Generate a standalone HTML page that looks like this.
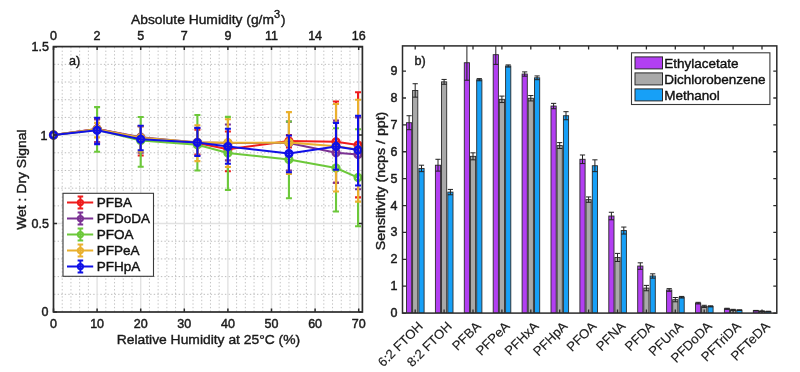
<!DOCTYPE html>
<html><head><meta charset="utf-8"><style>
html,body{margin:0;padding:0;background:#fff;}
body{width:800px;height:372px;position:relative;overflow:hidden;font-family:"Liberation Sans", sans-serif;}
</style></head><body>
<svg width="800" height="372" viewBox="0 0 800 372" style="position:absolute;left:0;top:0;will-change:transform">
<rect x="0" y="0" width="800" height="372" fill="#ffffff"/>
<g stroke="#c4c4c4" stroke-width="1.0" stroke-dasharray="1.4,2.16" stroke-dashoffset="-0.4"><line x1="62.22" y1="46.60" x2="62.22" y2="312.00"/><line x1="70.94" y1="46.60" x2="70.94" y2="312.00"/><line x1="79.66" y1="46.60" x2="79.66" y2="312.00"/><line x1="88.38" y1="46.60" x2="88.38" y2="312.00"/><line x1="105.82" y1="46.60" x2="105.82" y2="312.00"/><line x1="114.54" y1="46.60" x2="114.54" y2="312.00"/><line x1="123.26" y1="46.60" x2="123.26" y2="312.00"/><line x1="131.98" y1="46.60" x2="131.98" y2="312.00"/><line x1="149.42" y1="46.60" x2="149.42" y2="312.00"/><line x1="158.14" y1="46.60" x2="158.14" y2="312.00"/><line x1="166.86" y1="46.60" x2="166.86" y2="312.00"/><line x1="175.58" y1="46.60" x2="175.58" y2="312.00"/><line x1="193.02" y1="46.60" x2="193.02" y2="312.00"/><line x1="201.74" y1="46.60" x2="201.74" y2="312.00"/><line x1="210.46" y1="46.60" x2="210.46" y2="312.00"/><line x1="219.18" y1="46.60" x2="219.18" y2="312.00"/><line x1="236.62" y1="46.60" x2="236.62" y2="312.00"/><line x1="245.34" y1="46.60" x2="245.34" y2="312.00"/><line x1="254.06" y1="46.60" x2="254.06" y2="312.00"/><line x1="262.78" y1="46.60" x2="262.78" y2="312.00"/><line x1="280.22" y1="46.60" x2="280.22" y2="312.00"/><line x1="288.94" y1="46.60" x2="288.94" y2="312.00"/><line x1="297.66" y1="46.60" x2="297.66" y2="312.00"/><line x1="306.38" y1="46.60" x2="306.38" y2="312.00"/><line x1="323.82" y1="46.60" x2="323.82" y2="312.00"/><line x1="332.54" y1="46.60" x2="332.54" y2="312.00"/><line x1="341.26" y1="46.60" x2="341.26" y2="312.00"/><line x1="349.98" y1="46.60" x2="349.98" y2="312.00"/></g>
<g stroke="#bcbcbc" stroke-width="1.0" stroke-dasharray="1.4,2.16" stroke-dashoffset="-0.55"><line x1="53.50" y1="294.31" x2="362.40" y2="294.31"/><line x1="53.50" y1="276.62" x2="362.40" y2="276.62"/><line x1="53.50" y1="258.93" x2="362.40" y2="258.93"/><line x1="53.50" y1="241.24" x2="362.40" y2="241.24"/><line x1="53.50" y1="205.86" x2="362.40" y2="205.86"/><line x1="53.50" y1="188.17" x2="362.40" y2="188.17"/><line x1="53.50" y1="170.48" x2="362.40" y2="170.48"/><line x1="53.50" y1="152.79" x2="362.40" y2="152.79"/><line x1="53.50" y1="117.41" x2="362.40" y2="117.41"/><line x1="53.50" y1="99.72" x2="362.40" y2="99.72"/><line x1="53.50" y1="82.03" x2="362.40" y2="82.03"/><line x1="53.50" y1="64.34" x2="362.40" y2="64.34"/></g>
<g stroke="#e2e2e2" stroke-width="1.4"><line x1="97.10" y1="46.60" x2="97.10" y2="312.00"/><line x1="140.70" y1="46.60" x2="140.70" y2="312.00"/><line x1="184.30" y1="46.60" x2="184.30" y2="312.00"/><line x1="227.90" y1="46.60" x2="227.90" y2="312.00"/><line x1="271.50" y1="46.60" x2="271.50" y2="312.00"/><line x1="315.10" y1="46.60" x2="315.10" y2="312.00"/><line x1="358.70" y1="46.60" x2="358.70" y2="312.00"/><line x1="53.50" y1="223.55" x2="362.40" y2="223.55"/><line x1="53.50" y1="135.10" x2="362.40" y2="135.10"/></g>
<polyline points="53.50,135.10 97.10,128.91 140.70,137.75 197.38,143.06 227.90,149.25 288.94,141.11 336.03,141.82 358.05,145.01" fill="none" stroke="#ee1c1c" stroke-width="2" stroke-linejoin="round"/>
<path d="M97.10 119.18V142.18M94.10 119.18H100.10M94.10 142.18H100.10M140.70 126.25V155.44M137.70 126.25H143.70M137.70 155.44H143.70M197.38 129.79V154.56M194.38 129.79H200.38M194.38 154.56H200.38M227.90 131.56V171.19M224.90 131.56H230.90M224.90 171.19H230.90M288.94 135.10V147.48M285.94 135.10H291.94M285.94 147.48H291.94M336.03 101.49V182.69M333.03 101.49H339.03M333.03 182.69H339.03M358.05 92.29V197.37M355.05 92.29H361.05M355.05 197.37H361.05" fill="none" stroke="#ee1c1c" stroke-width="2.1"/>
<g fill="none" stroke="#ee1c1c" stroke-width="2.6"><circle cx="53.50" cy="135.10" r="3.3"/><circle cx="97.10" cy="128.91" r="3.3"/><circle cx="140.70" cy="137.75" r="3.3"/><circle cx="197.38" cy="143.06" r="3.3"/><circle cx="227.90" cy="149.25" r="3.3"/><circle cx="288.94" cy="141.11" r="3.3"/><circle cx="336.03" cy="141.82" r="3.3"/><circle cx="358.05" cy="145.01" r="3.3"/></g>
<polyline points="53.50,135.10 97.10,128.91 140.70,137.22 197.38,142.53 227.90,143.06 288.94,143.06 336.03,152.79 358.05,154.56" fill="none" stroke="#7b3294" stroke-width="2" stroke-linejoin="round"/>
<path d="M97.10 119.18V142.18M94.10 119.18H100.10M94.10 142.18H100.10M140.70 126.25V152.79M137.70 126.25H143.70M137.70 152.79H143.70M197.38 128.02V155.44M194.38 128.02H200.38M194.38 155.44H200.38M227.90 124.49V160.40M224.90 124.49H230.90M224.90 160.40H230.90M288.94 121.66V170.48M285.94 121.66H291.94M285.94 170.48H291.94M336.03 120.59V182.69M333.03 120.59H339.03M333.03 182.69H339.03M358.05 117.41V189.23M355.05 117.41H361.05M355.05 189.23H361.05" fill="none" stroke="#7b3294" stroke-width="2.1"/>
<g fill="none" stroke="#7b3294" stroke-width="2.6"><circle cx="53.50" cy="135.10" r="3.3"/><circle cx="97.10" cy="128.91" r="3.3"/><circle cx="140.70" cy="137.22" r="3.3"/><circle cx="197.38" cy="142.53" r="3.3"/><circle cx="227.90" cy="143.06" r="3.3"/><circle cx="288.94" cy="143.06" r="3.3"/><circle cx="336.03" cy="152.79" r="3.3"/><circle cx="358.05" cy="154.56" r="3.3"/></g>
<polyline points="53.50,135.10 97.10,129.79 140.70,140.41 197.38,144.83 227.90,152.97 288.94,159.51 336.03,168.00 358.05,177.56" fill="none" stroke="#6cc83a" stroke-width="2" stroke-linejoin="round"/>
<path d="M97.10 107.15V151.73M94.10 107.15H100.10M94.10 151.73H100.10M140.70 117.06V166.77M137.70 117.06H143.70M137.70 166.77H143.70M197.38 114.93V170.48M194.38 114.93H200.38M194.38 170.48H200.38M227.90 116.88V189.94M224.90 116.88H230.90M224.90 189.94H230.90M288.94 121.48V198.25M285.94 121.48H291.94M285.94 198.25H291.94M336.03 128.20V211.52M333.03 128.20H339.03M333.03 211.52H339.03M358.05 129.26V226.20M355.05 129.26H361.05M355.05 226.20H361.05" fill="none" stroke="#6cc83a" stroke-width="2.1"/>
<g fill="none" stroke="#6cc83a" stroke-width="2.6"><circle cx="53.50" cy="135.10" r="3.3"/><circle cx="97.10" cy="129.79" r="3.3"/><circle cx="140.70" cy="140.41" r="3.3"/><circle cx="197.38" cy="144.83" r="3.3"/><circle cx="227.90" cy="152.97" r="3.3"/><circle cx="288.94" cy="159.51" r="3.3"/><circle cx="336.03" cy="168.00" r="3.3"/><circle cx="358.05" cy="177.56" r="3.3"/></g>
<polyline points="53.50,135.10 97.10,129.26 140.70,137.75 197.38,142.18 227.90,142.71 288.94,142.53 336.03,146.24 358.05,149.61" fill="none" stroke="#e9b02e" stroke-width="2" stroke-linejoin="round"/>
<path d="M97.10 122.89V137.40M94.10 122.89H100.10M94.10 137.40H100.10M140.70 126.25V151.55M137.70 126.25H143.70M137.70 151.55H143.70M197.38 125.19V161.10M194.38 125.19H200.38M194.38 161.10H200.38M227.90 119.18V166.94M224.90 119.18H230.90M224.90 166.94H230.90M288.94 112.10V174.02M285.94 112.10H291.94M285.94 174.02H291.94M336.03 103.97V191.53M333.03 103.97H339.03M333.03 191.53H339.03M358.05 99.72V201.61M355.05 99.72H361.05M355.05 201.61H361.05" fill="none" stroke="#e9b02e" stroke-width="2.1"/>
<g fill="none" stroke="#e9b02e" stroke-width="2.6"><circle cx="53.50" cy="135.10" r="3.3"/><circle cx="97.10" cy="129.26" r="3.3"/><circle cx="140.70" cy="137.75" r="3.3"/><circle cx="197.38" cy="142.18" r="3.3"/><circle cx="227.90" cy="142.71" r="3.3"/><circle cx="288.94" cy="142.53" r="3.3"/><circle cx="336.03" cy="146.24" r="3.3"/><circle cx="358.05" cy="149.61" r="3.3"/></g>
<polyline points="53.50,135.10 97.10,130.32 140.70,139.35 197.38,142.53 227.90,146.60 288.94,153.50 336.03,146.42 358.05,149.96" fill="none" stroke="#1010e6" stroke-width="2" stroke-linejoin="round"/>
<path d="M97.10 117.76V144.12M94.10 117.76H100.10M94.10 144.12H100.10M140.70 125.72V150.31M137.70 125.72H143.70M137.70 150.31H143.70M197.38 127.85V155.97M194.38 127.85H200.38M194.38 155.97H200.38M227.90 128.73V163.76M224.90 128.73H230.90M224.90 163.76H230.90M288.94 135.45V172.25M285.94 135.45H291.94M285.94 172.25H291.94M336.03 122.89V169.77M333.03 122.89H339.03M333.03 169.77H339.03M358.05 115.82V185.52M355.05 115.82H361.05M355.05 185.52H361.05" fill="none" stroke="#1010e6" stroke-width="2.1"/>
<g fill="none" stroke="#1010e6" stroke-width="2.6"><circle cx="53.50" cy="135.10" r="3.3"/><circle cx="97.10" cy="130.32" r="3.3"/><circle cx="140.70" cy="139.35" r="3.3"/><circle cx="197.38" cy="142.53" r="3.3"/><circle cx="227.90" cy="146.60" r="3.3"/><circle cx="288.94" cy="153.50" r="3.3"/><circle cx="336.03" cy="146.42" r="3.3"/><circle cx="358.05" cy="149.96" r="3.3"/></g>
<rect x="53.50" y="46.60" width="308.90" height="265.40" fill="none" stroke="#2b2b2b" stroke-width="1.7"/>
<path d="M53.50 312.00V308.50M53.50 46.60V50.10M97.10 312.00V308.50M97.10 46.60V50.10M140.70 312.00V308.50M140.70 46.60V50.10M184.30 312.00V308.50M184.30 46.60V50.10M227.90 312.00V308.50M227.90 46.60V50.10M271.50 312.00V308.50M271.50 46.60V50.10M315.10 312.00V308.50M315.10 46.60V50.10M358.70 312.00V308.50M358.70 46.60V50.10M53.50 312.00H57.00M362.40 312.00H358.90M53.50 223.55H57.00M362.40 223.55H358.90M53.50 135.10H57.00M362.40 135.10H358.90M53.50 46.65H57.00M362.40 46.65H358.90" stroke="#2b2b2b" stroke-width="1.5" fill="none"/>
<g font-family='"Liberation Sans", sans-serif' font-size="12.5" fill="#1a1a1a" stroke="#1a1a1a" stroke-width="0.45" text-anchor="middle">
<text x="53.50" y="328.3">0</text>
<text x="97.10" y="328.3">10</text>
<text x="140.70" y="328.3">20</text>
<text x="184.30" y="328.3">30</text>
<text x="227.90" y="328.3">40</text>
<text x="271.50" y="328.3">50</text>
<text x="315.10" y="328.3">60</text>
<text x="358.70" y="328.3">70</text>
<text x="53.50" y="39.8">0</text>
<text x="97.10" y="39.8">2</text>
<text x="140.70" y="39.8">5</text>
<text x="184.30" y="39.8">7</text>
<text x="227.90" y="39.8">9</text>
<text x="271.50" y="39.8">11</text>
<text x="315.10" y="39.8">14</text>
<text x="358.70" y="39.8">16</text>
</g>
<g font-family='"Liberation Sans", sans-serif' font-size="12.5" fill="#1a1a1a" stroke="#1a1a1a" stroke-width="0.45" text-anchor="end">
<text x="48.4" y="316.40">0</text>
<text x="49.0" y="227.95">0.5</text>
<text x="47.4" y="139.50">1</text>
<text x="49.0" y="51.05">1.5</text>
</g>
<text x="116.70" y="344.20" font-family='"Liberation Sans", sans-serif' font-size="13.5" fill="#1a1a1a" stroke="#1a1a1a" stroke-width="0.4" text-anchor="start" textLength="183.5" lengthAdjust="spacingAndGlyphs">Relative Humidity at 25°C (%)</text>
<text x="131.0" y="23.6" font-family='"Liberation Sans", sans-serif' font-size="13.5" fill="#1a1a1a" stroke="#1a1a1a" stroke-width="0.4"><tspan textLength="143" lengthAdjust="spacingAndGlyphs">Absolute Humidity (g/m</tspan><tspan font-size="11" dy="-6">3</tspan><tspan dy="6" dx="0.8">)</tspan></text>
<text transform="translate(25.80,229.80) rotate(-90)" font-family='"Liberation Sans", sans-serif' font-size="13.5" fill="#1a1a1a" stroke="#1a1a1a" stroke-width="0.4" text-anchor="start" textLength="100.4" lengthAdjust="spacingAndGlyphs">Wet : Dry Signal</text>
<text x="68.90" y="64.60" font-family='"Liberation Sans", sans-serif' font-size="12.6" fill="#1a1a1a" stroke="#1a1a1a" stroke-width="0.4" text-anchor="start">a)</text>
<rect x="63" y="193.3" width="90.5" height="83" fill="#ffffff" stroke="#3a3a3a" stroke-width="1.1"/>
<path d="M67 202.60H93.2M80.4 196.60V208.60M77.6 196.60H83.2M77.6 208.60H83.2" stroke="#ee1c1c" stroke-width="2" fill="none"/>
<circle cx="80.4" cy="202.60" r="2.6" fill="none" stroke="#ee1c1c" stroke-width="2"/>
<text x="96.80" y="207.20" font-family='"Liberation Sans", sans-serif' font-size="13.5" fill="#111111" stroke="#111111" stroke-width="0.4" text-anchor="start">PFBA</text>
<path d="M67 218.60H93.2M80.4 212.60V224.60M77.6 212.60H83.2M77.6 224.60H83.2" stroke="#7b3294" stroke-width="2" fill="none"/>
<circle cx="80.4" cy="218.60" r="2.6" fill="none" stroke="#7b3294" stroke-width="2"/>
<text x="96.80" y="223.20" font-family='"Liberation Sans", sans-serif' font-size="13.5" fill="#111111" stroke="#111111" stroke-width="0.4" text-anchor="start">PFDoDA</text>
<path d="M67 234.60H93.2M80.4 228.60V240.60M77.6 228.60H83.2M77.6 240.60H83.2" stroke="#6cc83a" stroke-width="2" fill="none"/>
<circle cx="80.4" cy="234.60" r="2.6" fill="none" stroke="#6cc83a" stroke-width="2"/>
<text x="96.80" y="239.20" font-family='"Liberation Sans", sans-serif' font-size="13.5" fill="#111111" stroke="#111111" stroke-width="0.4" text-anchor="start">PFOA</text>
<path d="M67 250.60H93.2M80.4 244.60V256.60M77.6 244.60H83.2M77.6 256.60H83.2" stroke="#e9b02e" stroke-width="2" fill="none"/>
<circle cx="80.4" cy="250.60" r="2.6" fill="none" stroke="#e9b02e" stroke-width="2"/>
<text x="96.80" y="255.20" font-family='"Liberation Sans", sans-serif' font-size="13.5" fill="#111111" stroke="#111111" stroke-width="0.4" text-anchor="start">PFPeA</text>
<path d="M67 266.60H93.2M80.4 260.60V272.60M77.6 260.60H83.2M77.6 272.60H83.2" stroke="#1010e6" stroke-width="2" fill="none"/>
<circle cx="80.4" cy="266.60" r="2.6" fill="none" stroke="#1010e6" stroke-width="2"/>
<text x="96.80" y="271.20" font-family='"Liberation Sans", sans-serif' font-size="13.5" fill="#111111" stroke="#111111" stroke-width="0.4" text-anchor="start">PFHpA</text>
<defs><clipPath id="rc"><rect x="402.5" y="45.9" width="374.29999999999995" height="267.20000000000005"/></clipPath></defs>
<g clip-path="url(#rc)">
<rect x="406.50" y="122.72" width="5.2" height="190.38" fill="#b23ff2" stroke="#2a2a2a" stroke-width="0.9"/>
<rect x="412.60" y="90.45" width="5.2" height="222.65" fill="#a9a9a9" stroke="#2a2a2a" stroke-width="0.9"/>
<rect x="418.90" y="168.43" width="5.2" height="144.67" fill="#17a0f7" stroke="#2a2a2a" stroke-width="0.9"/>
<path d="M409.10 115.73V129.71M406.50 115.73H411.70M406.50 129.71H411.70" stroke="#222" stroke-width="1" fill="none"/>
<path d="M415.20 83.73V97.17M412.60 83.73H417.80M412.60 97.17H417.80" stroke="#222" stroke-width="1" fill="none"/>
<path d="M421.50 165.21V171.66M418.90 165.21H424.10M418.90 171.66H424.10" stroke="#222" stroke-width="1" fill="none"/>
<rect x="435.40" y="165.21" width="5.2" height="147.90" fill="#b23ff2" stroke="#2a2a2a" stroke-width="0.9"/>
<rect x="441.50" y="81.85" width="5.2" height="231.25" fill="#a9a9a9" stroke="#2a2a2a" stroke-width="0.9"/>
<rect x="447.80" y="192.10" width="5.2" height="121.00" fill="#17a0f7" stroke="#2a2a2a" stroke-width="0.9"/>
<path d="M438.00 159.29V171.12M435.40 159.29H440.60M435.40 171.12H440.60" stroke="#222" stroke-width="1" fill="none"/>
<path d="M444.10 79.43V84.27M441.50 79.43H446.70M441.50 84.27H446.70" stroke="#222" stroke-width="1" fill="none"/>
<path d="M450.40 189.41V194.78M447.80 189.41H453.00M447.80 194.78H453.00" stroke="#222" stroke-width="1" fill="none"/>
<rect x="464.30" y="62.75" width="5.2" height="250.35" fill="#b23ff2" stroke="#2a2a2a" stroke-width="0.9"/>
<rect x="470.40" y="156.33" width="5.2" height="156.77" fill="#a9a9a9" stroke="#2a2a2a" stroke-width="0.9"/>
<rect x="476.70" y="79.69" width="5.2" height="233.41" fill="#17a0f7" stroke="#2a2a2a" stroke-width="0.9"/>
<path d="M466.90 45.28V80.23M464.30 45.28H469.50M464.30 80.23H469.50" stroke="#222" stroke-width="1" fill="none"/>
<path d="M473.00 152.84V159.83M470.40 152.84H475.60M470.40 159.83H475.60" stroke="#222" stroke-width="1" fill="none"/>
<path d="M479.30 78.62V80.77M476.70 78.62H481.90M476.70 80.77H481.90" stroke="#222" stroke-width="1" fill="none"/>
<rect x="493.20" y="54.69" width="5.2" height="258.41" fill="#b23ff2" stroke="#2a2a2a" stroke-width="0.9"/>
<rect x="499.30" y="99.32" width="5.2" height="213.78" fill="#a9a9a9" stroke="#2a2a2a" stroke-width="0.9"/>
<rect x="505.60" y="65.98" width="5.2" height="247.12" fill="#17a0f7" stroke="#2a2a2a" stroke-width="0.9"/>
<path d="M495.80 45.01V64.37M493.20 45.01H498.40M493.20 64.37H498.40" stroke="#222" stroke-width="1" fill="none"/>
<path d="M501.90 96.10V102.55M499.30 96.10H504.50M499.30 102.55H504.50" stroke="#222" stroke-width="1" fill="none"/>
<path d="M508.20 64.91V67.06M505.60 64.91H510.80M505.60 67.06H510.80" stroke="#222" stroke-width="1" fill="none"/>
<rect x="522.10" y="74.05" width="5.2" height="239.05" fill="#b23ff2" stroke="#2a2a2a" stroke-width="0.9"/>
<rect x="528.20" y="98.25" width="5.2" height="214.85" fill="#a9a9a9" stroke="#2a2a2a" stroke-width="0.9"/>
<rect x="534.50" y="77.81" width="5.2" height="235.29" fill="#17a0f7" stroke="#2a2a2a" stroke-width="0.9"/>
<path d="M524.70 71.90V76.20M522.10 71.90H527.30M522.10 76.20H527.30" stroke="#222" stroke-width="1" fill="none"/>
<path d="M530.80 95.56V100.94M528.20 95.56H533.40M528.20 100.94H533.40" stroke="#222" stroke-width="1" fill="none"/>
<path d="M537.10 75.93V79.69M534.50 75.93H539.70M534.50 79.69H539.70" stroke="#222" stroke-width="1" fill="none"/>
<rect x="551.00" y="106.05" width="5.2" height="207.05" fill="#b23ff2" stroke="#2a2a2a" stroke-width="0.9"/>
<rect x="557.10" y="145.58" width="5.2" height="167.52" fill="#a9a9a9" stroke="#2a2a2a" stroke-width="0.9"/>
<rect x="563.40" y="115.73" width="5.2" height="197.37" fill="#17a0f7" stroke="#2a2a2a" stroke-width="0.9"/>
<path d="M553.60 103.36V108.74M551.00 103.36H556.20M551.00 108.74H556.20" stroke="#222" stroke-width="1" fill="none"/>
<path d="M559.70 142.62V148.53M557.10 142.62H562.30M557.10 148.53H562.30" stroke="#222" stroke-width="1" fill="none"/>
<path d="M566.00 111.69V119.76M563.40 111.69H568.60M563.40 119.76H568.60" stroke="#222" stroke-width="1" fill="none"/>
<rect x="579.90" y="159.29" width="5.2" height="153.81" fill="#b23ff2" stroke="#2a2a2a" stroke-width="0.9"/>
<rect x="586.00" y="199.62" width="5.2" height="113.48" fill="#a9a9a9" stroke="#2a2a2a" stroke-width="0.9"/>
<rect x="592.30" y="165.74" width="5.2" height="147.36" fill="#17a0f7" stroke="#2a2a2a" stroke-width="0.9"/>
<path d="M582.50 154.99V163.59M579.90 154.99H585.10M579.90 163.59H585.10" stroke="#222" stroke-width="1" fill="none"/>
<path d="M588.60 196.94V202.31M586.00 196.94H591.20M586.00 202.31H591.20" stroke="#222" stroke-width="1" fill="none"/>
<path d="M594.90 159.83V171.66M592.30 159.83H597.50M592.30 171.66H597.50" stroke="#222" stroke-width="1" fill="none"/>
<rect x="608.80" y="216.03" width="5.2" height="97.07" fill="#b23ff2" stroke="#2a2a2a" stroke-width="0.9"/>
<rect x="614.90" y="257.44" width="5.2" height="55.66" fill="#a9a9a9" stroke="#2a2a2a" stroke-width="0.9"/>
<rect x="621.20" y="230.55" width="5.2" height="82.55" fill="#17a0f7" stroke="#2a2a2a" stroke-width="0.9"/>
<path d="M611.40 212.26V219.79M608.80 212.26H614.00M608.80 219.79H614.00" stroke="#222" stroke-width="1" fill="none"/>
<path d="M617.50 253.40V261.47M614.90 253.40H620.10M614.90 261.47H620.10" stroke="#222" stroke-width="1" fill="none"/>
<path d="M623.80 227.05V234.04M621.20 227.05H626.40M621.20 234.04H626.40" stroke="#222" stroke-width="1" fill="none"/>
<rect x="637.70" y="266.04" width="5.2" height="47.06" fill="#b23ff2" stroke="#2a2a2a" stroke-width="0.9"/>
<rect x="643.80" y="288.09" width="5.2" height="25.01" fill="#a9a9a9" stroke="#2a2a2a" stroke-width="0.9"/>
<rect x="650.10" y="275.99" width="5.2" height="37.11" fill="#17a0f7" stroke="#2a2a2a" stroke-width="0.9"/>
<path d="M640.30 262.82V269.27M637.70 262.82H642.90M637.70 269.27H642.90" stroke="#222" stroke-width="1" fill="none"/>
<path d="M646.40 285.40V290.78M643.80 285.40H649.00M643.80 290.78H649.00" stroke="#222" stroke-width="1" fill="none"/>
<path d="M652.70 273.84V278.14M650.10 273.84H655.30M650.10 278.14H655.30" stroke="#222" stroke-width="1" fill="none"/>
<rect x="666.60" y="289.97" width="5.2" height="23.13" fill="#b23ff2" stroke="#2a2a2a" stroke-width="0.9"/>
<rect x="672.70" y="299.66" width="5.2" height="13.44" fill="#a9a9a9" stroke="#2a2a2a" stroke-width="0.9"/>
<rect x="679.00" y="297.23" width="5.2" height="15.87" fill="#17a0f7" stroke="#2a2a2a" stroke-width="0.9"/>
<path d="M669.20 288.63V291.32M666.60 288.63H671.80M666.60 291.32H671.80" stroke="#222" stroke-width="1" fill="none"/>
<path d="M675.30 297.50V301.81M672.70 297.50H677.90M672.70 301.81H677.90" stroke="#222" stroke-width="1" fill="none"/>
<path d="M681.60 296.43V298.04M679.00 296.43H684.20M679.00 298.04H684.20" stroke="#222" stroke-width="1" fill="none"/>
<rect x="695.50" y="303.15" width="5.2" height="9.95" fill="#b23ff2" stroke="#2a2a2a" stroke-width="0.9"/>
<rect x="701.60" y="306.38" width="5.2" height="6.72" fill="#a9a9a9" stroke="#2a2a2a" stroke-width="0.9"/>
<rect x="707.90" y="306.38" width="5.2" height="6.72" fill="#17a0f7" stroke="#2a2a2a" stroke-width="0.9"/>
<path d="M698.10 302.34V303.96M695.50 302.34H700.70M695.50 303.96H700.70" stroke="#222" stroke-width="1" fill="none"/>
<path d="M704.20 305.30V307.45M701.60 305.30H706.80M701.60 307.45H706.80" stroke="#222" stroke-width="1" fill="none"/>
<path d="M710.50 305.84V306.92M707.90 305.84H713.10M707.90 306.92H713.10" stroke="#222" stroke-width="1" fill="none"/>
<rect x="724.40" y="308.80" width="5.2" height="4.30" fill="#b23ff2" stroke="#2a2a2a" stroke-width="0.9"/>
<rect x="730.50" y="309.87" width="5.2" height="3.23" fill="#a9a9a9" stroke="#2a2a2a" stroke-width="0.9"/>
<rect x="736.80" y="310.14" width="5.2" height="2.96" fill="#17a0f7" stroke="#2a2a2a" stroke-width="0.9"/>
<path d="M727.00 308.26V309.34M724.40 308.26H729.60M724.40 309.34H729.60" stroke="#222" stroke-width="1" fill="none"/>
<path d="M733.10 309.34V310.41M730.50 309.34H735.70M730.50 310.41H735.70" stroke="#222" stroke-width="1" fill="none"/>
<path d="M739.40 309.87V310.41M736.80 309.87H742.00M736.80 310.41H742.00" stroke="#222" stroke-width="1" fill="none"/>
<rect x="753.30" y="310.68" width="5.2" height="2.42" fill="#b23ff2" stroke="#2a2a2a" stroke-width="0.9"/>
<rect x="759.40" y="311.22" width="5.2" height="1.88" fill="#a9a9a9" stroke="#2a2a2a" stroke-width="0.9"/>
<rect x="765.70" y="311.49" width="5.2" height="1.61" fill="#17a0f7" stroke="#2a2a2a" stroke-width="0.9"/>
<path d="M755.90 310.41V310.95M753.30 310.41H758.50M753.30 310.95H758.50" stroke="#222" stroke-width="1" fill="none"/>
<path d="M762.00 310.95V311.49M759.40 310.95H764.60M759.40 311.49H764.60" stroke="#222" stroke-width="1" fill="none"/>
<path d="M768.30 311.22V311.76M765.70 311.22H770.90M765.70 311.76H770.90" stroke="#222" stroke-width="1" fill="none"/>
</g>
<rect x="402.5" y="45.9" width="374.30" height="267.20" fill="none" stroke="#2b2b2b" stroke-width="1.5"/>
<path d="M402.5 313.10H406.0M776.8 313.10H773.3M402.5 286.21H406.0M776.8 286.21H773.3M402.5 259.32H406.0M776.8 259.32H773.3M402.5 232.43H406.0M776.8 232.43H773.3M402.5 205.54H406.0M776.8 205.54H773.3M402.5 178.65H406.0M776.8 178.65H773.3M402.5 151.76H406.0M776.8 151.76H773.3M402.5 124.87H406.0M776.8 124.87H773.3M402.5 97.98H406.0M776.8 97.98H773.3M402.5 71.09H406.0M776.8 71.09H773.3M415.20 45.9V49.4M415.20 313.1V309.6M444.10 45.9V49.4M444.10 313.1V309.6M473.00 45.9V49.4M473.00 313.1V309.6M501.90 45.9V49.4M501.90 313.1V309.6M530.80 45.9V49.4M530.80 313.1V309.6M559.70 45.9V49.4M559.70 313.1V309.6M588.60 45.9V49.4M588.60 313.1V309.6M617.50 45.9V49.4M617.50 313.1V309.6M646.40 45.9V49.4M646.40 313.1V309.6M675.30 45.9V49.4M675.30 313.1V309.6M704.20 45.9V49.4M704.20 313.1V309.6M733.10 45.9V49.4M733.10 313.1V309.6M762.00 45.9V49.4M762.00 313.1V309.6" stroke="#2b2b2b" stroke-width="1.3" fill="none"/>
<g font-family='"Liberation Sans", sans-serif' font-size="12.5" fill="#1a1a1a" stroke="#1a1a1a" stroke-width="0.45" text-anchor="end">
<text x="397.5" y="317.10">0</text>
<text x="397.5" y="290.21">1</text>
<text x="397.5" y="263.32">2</text>
<text x="397.5" y="236.43">3</text>
<text x="397.5" y="209.54">4</text>
<text x="397.5" y="182.65">5</text>
<text x="397.5" y="155.76">6</text>
<text x="397.5" y="128.87">7</text>
<text x="397.5" y="101.98">8</text>
<text x="397.5" y="75.09">9</text>
</g>
<text transform="translate(423.80,327.00) rotate(-45)" font-family='"Liberation Sans", sans-serif' font-size="13.1" fill="#1a1a1a" stroke="#1a1a1a" stroke-width="0.15" text-anchor="end">6:2 FTOH</text>
<text transform="translate(452.70,327.00) rotate(-45)" font-family='"Liberation Sans", sans-serif' font-size="13.1" fill="#1a1a1a" stroke="#1a1a1a" stroke-width="0.15" text-anchor="end">8:2 FTOH</text>
<text transform="translate(481.60,327.00) rotate(-45)" font-family='"Liberation Sans", sans-serif' font-size="13.1" fill="#1a1a1a" stroke="#1a1a1a" stroke-width="0.15" text-anchor="end">PFBA</text>
<text transform="translate(510.50,327.00) rotate(-45)" font-family='"Liberation Sans", sans-serif' font-size="13.1" fill="#1a1a1a" stroke="#1a1a1a" stroke-width="0.15" text-anchor="end">PFPeA</text>
<text transform="translate(539.40,327.00) rotate(-45)" font-family='"Liberation Sans", sans-serif' font-size="13.1" fill="#1a1a1a" stroke="#1a1a1a" stroke-width="0.15" text-anchor="end">PFHxA</text>
<text transform="translate(568.30,327.00) rotate(-45)" font-family='"Liberation Sans", sans-serif' font-size="13.1" fill="#1a1a1a" stroke="#1a1a1a" stroke-width="0.15" text-anchor="end">PFHpA</text>
<text transform="translate(597.20,327.00) rotate(-45)" font-family='"Liberation Sans", sans-serif' font-size="13.1" fill="#1a1a1a" stroke="#1a1a1a" stroke-width="0.15" text-anchor="end">PFOA</text>
<text transform="translate(626.10,327.00) rotate(-45)" font-family='"Liberation Sans", sans-serif' font-size="13.1" fill="#1a1a1a" stroke="#1a1a1a" stroke-width="0.15" text-anchor="end">PFNA</text>
<text transform="translate(655.00,327.00) rotate(-45)" font-family='"Liberation Sans", sans-serif' font-size="13.1" fill="#1a1a1a" stroke="#1a1a1a" stroke-width="0.15" text-anchor="end">PFDA</text>
<text transform="translate(683.90,327.00) rotate(-45)" font-family='"Liberation Sans", sans-serif' font-size="13.1" fill="#1a1a1a" stroke="#1a1a1a" stroke-width="0.15" text-anchor="end">PFUnA</text>
<text transform="translate(712.80,327.00) rotate(-45)" font-family='"Liberation Sans", sans-serif' font-size="13.1" fill="#1a1a1a" stroke="#1a1a1a" stroke-width="0.15" text-anchor="end">PFDoDA</text>
<text transform="translate(741.70,327.00) rotate(-45)" font-family='"Liberation Sans", sans-serif' font-size="13.1" fill="#1a1a1a" stroke="#1a1a1a" stroke-width="0.15" text-anchor="end">PFTriDA</text>
<text transform="translate(770.60,327.00) rotate(-45)" font-family='"Liberation Sans", sans-serif' font-size="13.1" fill="#1a1a1a" stroke="#1a1a1a" stroke-width="0.15" text-anchor="end">PFTeDA</text>
<text transform="translate(385.40,250.30) rotate(-90)" font-family='"Liberation Sans", sans-serif' font-size="13.5" fill="#1a1a1a" stroke="#1a1a1a" stroke-width="0.4" text-anchor="start" textLength="138.6" lengthAdjust="spacingAndGlyphs">Sensitivity (ncps / ppt)</text>
<text x="414.50" y="64.60" font-family='"Liberation Sans", sans-serif' font-size="12.6" fill="#1a1a1a" stroke="#1a1a1a" stroke-width="0.4" text-anchor="start">b)</text>
<rect x="631.5" y="52.8" width="138.4" height="51.7" fill="#ffffff" stroke="#3a3a3a" stroke-width="1.1"/>
<rect x="635" y="56.90" width="27.5" height="12" fill="#b23ff2" stroke="#2a2a2a" stroke-width="1"/>
<text x="664.20" y="67.90" font-family='"Liberation Sans", sans-serif' font-size="13.5" fill="#111111" stroke="#111111" stroke-width="0.4" text-anchor="start">Ethylacetate</text>
<rect x="635" y="72.90" width="27.5" height="12" fill="#a9a9a9" stroke="#2a2a2a" stroke-width="1"/>
<text x="664.20" y="83.90" font-family='"Liberation Sans", sans-serif' font-size="13.5" fill="#111111" stroke="#111111" stroke-width="0.4" text-anchor="start">Dichlorobenzene</text>
<rect x="635" y="88.90" width="27.5" height="12" fill="#17a0f7" stroke="#2a2a2a" stroke-width="1"/>
<text x="664.20" y="99.90" font-family='"Liberation Sans", sans-serif' font-size="13.5" fill="#111111" stroke="#111111" stroke-width="0.4" text-anchor="start">Methanol</text>
</svg>
</body></html>
